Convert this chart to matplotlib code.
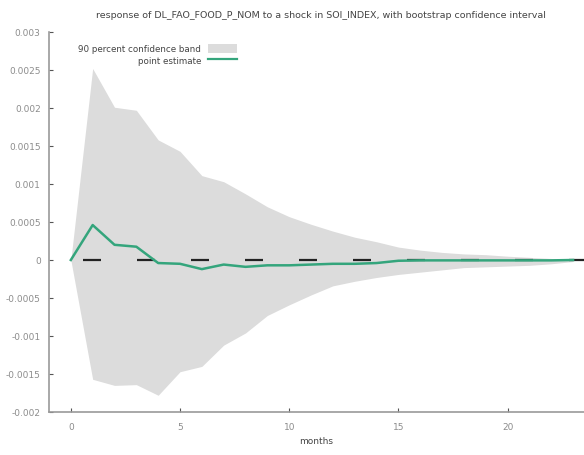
import numpy as np
import matplotlib
matplotlib.use('Agg')
import matplotlib.pyplot as plt
from matplotlib.patches import Patch
from matplotlib.lines import Line2D

# DATA
months = list(range(24))
upper = [0.0, 0.00252, 0.00201, 0.00197, 0.00158, 0.00143, 0.00111, 0.00103,
         0.00087, 0.00070, 0.00057, 0.00047, 0.00038, 0.00030, 0.00024,
         0.00017, 0.00013, 0.00010, 0.00008, 0.00007, 0.00005, 0.000035,
         0.00002, 0.00001]
lower = [0.0, -0.00157, -0.00165, -0.00164, -0.00178, -0.00147, -0.00140,
         -0.00112, -0.00096, -0.00073, -0.00059, -0.00046, -0.00034,
         -0.00028, -0.00023, -0.00019, -0.00016, -0.00013, -0.00010,
         -0.00009, -0.00008, -0.00007, -0.00005, -0.00002]
estimate = [0.0, 0.00046, 0.00020, 0.000175, -0.00004, -0.00005, -0.00012,
            -0.00006, -0.00009, -0.00007, -0.00007, -0.00006, -0.00005,
            -0.00005, -0.00004, -0.00001, -0.000005, -0.000005, -0.000005,
            -0.000005, -0.000005, -0.000005, -0.000005, 0.0]

title = 'response of DL_FAO_FOOD_P_NOM to a shock in SOI_INDEX, with bootstrap confidence interval'
yticks = [-0.002, -0.0015, -0.001, -0.0005, 0, 0.0005, 0.001, 0.0015, 0.002, 0.0025, 0.003]
ytick_labels = ['-0.002', '-0.0015', '-0.001', '-0.0005', '0', '0.0005',
                '0.001', '0.0015', '0.002', '0.0025', '0.003']
xticks = [0, 5, 10, 15, 20]

band_color = '#dcdcdc'
line_color = '#34a57c'
axis_color = '#9a9a9a'
text_color = '#8c8c8c'

fig = plt.figure(figsize=(5.84, 4.56), dpi=100)
ax = fig.add_axes([49 / 584, 1 - 413 / 456, 1 - 49 / 584, (413 - 33) / 456])

# PLOT
ax.fill_between(months, lower, upper, color=band_color, linewidth=0, zorder=1)
ax.axhline(0, color='#222222', linewidth=1.6, linestyle=(9.0, (8.1, 16.2)),
           dash_capstyle='butt', zorder=2)
ax.plot(months, estimate, color=line_color, linewidth=1.8, zorder=3)

ax.set_xlim(-1, 23.5)
ax.set_ylim(-0.002, 0.003)
ax.set_xticks(xticks)
ax.set_yticks(yticks)
ax.set_yticklabels(ytick_labels)

# AXES STYLE
for side in ['top', 'right']:
    ax.spines[side].set_visible(False)
for side in ['left', 'bottom']:
    ax.spines[side].set_color(axis_color)
    ax.spines[side].set_linewidth(1.2)
ax.tick_params(direction='in', length=3, width=0.8, color='#555555',
               labelsize=6.5, labelcolor=text_color, pad=6)
ax.tick_params(axis='x', pad=7)

# LABELS
fig.text(0.549, 1 - 15 / 456, title, ha='center', va='center',
         fontsize=6.8, color='#444444')
ax.set_xlabel('months', fontsize=6.5, color='#444444', labelpad=4)

# LEGEND
handles = [Patch(facecolor=band_color, edgecolor='none'),
           Line2D([], [], color=line_color, linewidth=1.6)]
leg = ax.legend(handles, ['90 percent confidence band', 'point estimate'],
                loc='upper left', bbox_to_anchor=(0.04, 0.99), frameon=False,
                markerfirst=False, fontsize=6.3, handlelength=3.3,
                handleheight=1.2, labelspacing=0.3, handletextpad=0.8)
for t in leg.get_texts():
    t.set_color('#444444')

fig.savefig('out.png', dpi=100)
